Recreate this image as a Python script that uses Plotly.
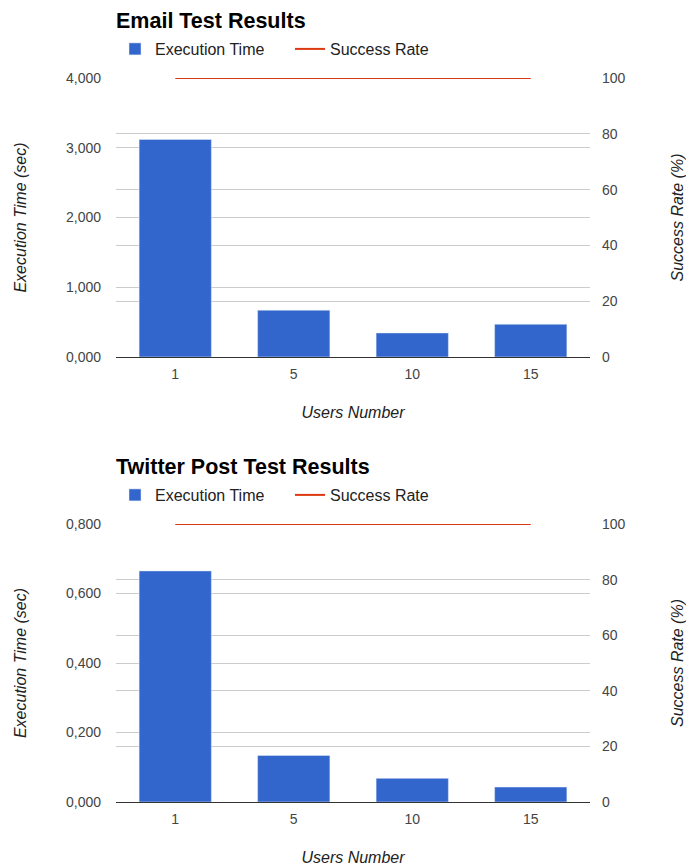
import plotly.graph_objects as go

users = ["1", "5", "10", "15"]
email_time = [3.119, 0.671, 0.345, 0.470]
email_success = [100, 100, 100, 100]
twitter_time = [0.665, 0.134, 0.068, 0.043]
twitter_success = [100, 100, 100, 100]
email_ticks = [0, 1, 2, 3, 4]
twitter_ticks = [0, 0.2, 0.4, 0.6, 0.8]
rate_ticks = [0, 20, 40, 60, 80, 100]

W, H = 686, 867
BLUE = "#3366cc"
RED = "#dc3912"
FONT = "Liberation Sans, Arial, sans-serif"


def px_x(p):
    return p / W


def px_y(p):
    return 1 - p / H


fig = go.Figure()

# Top chart
fig.add_trace(go.Bar(x=users, y=email_time, name="Execution Time", marker_color=BLUE,
                     width=0.61, xaxis="x", yaxis="y", legend="legend"))
fig.add_trace(go.Scatter(x=users, y=email_success, name="Success Rate", mode="lines",
                         line=dict(color=RED, width=2), xaxis="x", yaxis="y2", legend="legend"))
# Bottom chart
fig.add_trace(go.Bar(x=users, y=twitter_time, name="Execution Time", marker_color=BLUE,
                     width=0.61, xaxis="x2", yaxis="y3", legend="legend2"))
fig.add_trace(go.Scatter(x=users, y=twitter_success, name="Success Rate", mode="lines",
                         line=dict(color=RED, width=2), xaxis="x2", yaxis="y4", legend="legend2"))

xdom = [px_x(116), px_x(590)]
top_dom = [px_y(357), px_y(78)]
bot_dom = [px_y(802), px_y(524)]

tickfont = dict(family=FONT, size=14, color="#444444")
titlefont = dict(family=FONT, size=16, color="#222222", style="italic")


def xaxis(dom_y, anchor):
    return dict(domain=xdom, anchor=anchor, type="category", range=[-0.5, 3.5],
                showgrid=False, showline=True, linecolor="#333333", linewidth=1,
                ticks="", tickfont=tickfont, ticklabelstandoff=4,
                title=dict(text="Users Number", font=titlefont, standoff=26),
                automargin=False, fixedrange=True)


def yleft(dom, anchor, rng, ticks):
    return dict(domain=dom, anchor=anchor, range=rng, tickvals=ticks, tickformat=".3f",
                showgrid=True, gridcolor="#cccccc", gridwidth=1, zeroline=False,
                ticks="", tickfont=tickfont, ticklabelstandoff=14,
                title=dict(text="Execution Time (sec)", font=titlefont, standoff=35),
                automargin=False, fixedrange=True)


def yright(overlay, anchor):
    return dict(overlaying=overlay, anchor=anchor, side="right", range=[0, 100],
                tickvals=rate_ticks, showgrid=True, gridcolor="#cccccc", gridwidth=1,
                zeroline=False, ticks="", tickfont=tickfont, ticklabelstandoff=11,
                title=dict(text="Success Rate (%)", font=titlefont, standoff=48),
                automargin=False, fixedrange=True)


legend_common = dict(orientation="h", xanchor="left", yanchor="middle",
                     font=dict(family=FONT, size=16, color="#222222"),
                     bgcolor="rgba(0,0,0,0)", itemwidth=30, tracegroupgap=0,
                     entrywidth=130)

fig.update_layout(
    width=W, height=H,
    margin=dict(l=0, r=0, t=0, b=0),
    paper_bgcolor="white", plot_bgcolor="white",
    separators=",.",
    bargap=0.39,
    font=dict(family=FONT),
    xaxis=xaxis(top_dom, "y"),
    yaxis=yleft(top_dom, "x", [0, 4], email_ticks),
    yaxis2=yright("y", "x"),
    xaxis2=xaxis(bot_dom, "y3"),
    yaxis3=yleft(bot_dom, "x2", [0, 0.8], twitter_ticks),
    yaxis4=yright("y3", "x2"),
    legend=dict(x=px_x(115), y=px_y(49), **legend_common),
    legend2=dict(x=px_x(115), y=px_y(495), **legend_common),
    annotations=[
        dict(text="<b>Email Test Results</b>", x=px_x(114), y=px_y(21), xref="paper", yref="paper",
             xanchor="left", yanchor="middle", showarrow=False,
             font=dict(family=FONT, size=21.5, color="#000000")),
        dict(text="<b>Twitter Post Test Results</b>", x=px_x(114), y=px_y(467), xref="paper", yref="paper",
             xanchor="left", yanchor="middle", showarrow=False,
             font=dict(family=FONT, size=21.5, color="#000000")),
    ],
    showlegend=True,
)

fig.write_html("out.html")
